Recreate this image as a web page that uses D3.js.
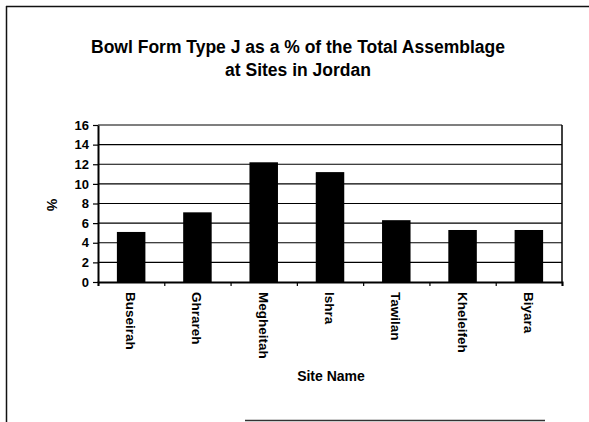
<!DOCTYPE html>
<html lang="en">
<head>
<meta charset="UTF-8">
<title>Bowl Form Type J</title>
<script src="https://d3js.org/d3.v7.min.js"></script>
<style>
  body { margin: 0; background: #fff; }
  text { font-family: "Liberation Sans", Arial, sans-serif; font-weight: bold; fill: #000; }
</style>
</head>
<body>
<svg id="chart" width="589" height="422"></svg>
<script>
const sites = ["Buseirah", "Ghrareh", "Megheitah", "Ishra", "Tawilan", "Kheleifeh", "Biyara"];
const percents = [5.1, 7.1, 12.2, 11.2, 6.3, 5.3, 5.3];
const yTicks = [0, 2, 4, 6, 8, 10, 12, 14, 16];

const svg = d3.select("#chart");
const margin = {top: 125, right: 27, bottom: 140, left: 98};
const width = 589 - margin.left - margin.right,
      height = 422 - margin.top - margin.bottom;

// outer frame (scanned look: left, top, partial bottom)
svg.append("line").attr("x1", 6.5).attr("x2", 6.5).attr("y1", 6).attr("y2", 422)
    .attr("stroke", "#111").attr("stroke-width", 1.5);
svg.append("line").attr("x1", 6).attr("x2", 589).attr("y1", 6.5).attr("y2", 6.5)
    .attr("stroke", "#111").attr("stroke-width", 1.5);
svg.append("line").attr("x1", 245).attr("x2", 545).attr("y1", 420.5).attr("y2", 420.5)
    .attr("stroke", "#333").attr("stroke-width", 1.5);

svg.append("text").attr("x", 298).attr("y", 53).attr("text-anchor", "middle")
    .style("font-size", "17.5px").text("Bowl Form Type J as a % of the Total Assemblage");
svg.append("text").attr("x", 298).attr("y", 76).attr("text-anchor", "middle")
    .style("font-size", "17.5px").text("at Sites in Jordan");

const g = svg.append("g").attr("transform", `translate(${margin.left},${margin.top})`);

const x = d3.scaleBand().domain(sites).range([0, width]).paddingInner(0.57).paddingOuter(0.285);
const y = d3.scaleLinear().domain([0, 16]).range([height, 0]);

// gridlines
g.selectAll(".grid").data(yTicks.slice(1))
  .enter().append("line")
    .attr("x1", 0).attr("x2", width)
    .attr("y1", d => y(d)).attr("y2", d => y(d))
    .attr("stroke", "#000").attr("stroke-width", 1.2);

// right border of plot
g.append("line").attr("x1", width).attr("x2", width).attr("y1", 0).attr("y2", height)
    .attr("stroke", "#000").attr("stroke-width", 1.5);

g.selectAll(".bar").data(sites)
  .enter().append("rect")
    .attr("x", d => x(d))
    .attr("y", (d, i) => y(percents[i]))
    .attr("width", x.bandwidth())
    .attr("height", (d, i) => height - y(percents[i]))
    .attr("fill", "#000");

const yAxis = g.append("g")
    .call(d3.axisLeft(y).tickValues(yTicks).tickSize(5).tickSizeOuter(0).tickPadding(4));
yAxis.select(".domain").attr("stroke-width", 2);
yAxis.selectAll("line").attr("stroke-width", 1.2);
yAxis.selectAll("text").style("font-size", "13px");

// category ticks at band boundaries
const bx = d3.scaleLinear().domain([0, sites.length]).range([0, width]);
const xAxis = g.append("g").attr("transform", `translate(0,${height})`)
    .call(d3.axisBottom(bx).ticks(sites.length).tickSize(4).tickFormat(""));
xAxis.select(".domain").attr("stroke-width", 2);
xAxis.selectAll("line").attr("stroke-width", 1.2);

g.selectAll(".xlab").data(sites)
  .enter().append("text")
    .attr("transform", d => `translate(${x(d) + x.bandwidth() / 2 - 5},${height + 10}) rotate(90)`)
    .attr("text-anchor", "start")
    .style("font-size", "13.5px")
    .text(d => d);

svg.append("text").attr("x", 331).attr("y", 381).attr("text-anchor", "middle")
    .style("font-size", "14px").text("Site Name");

svg.append("text").attr("transform", "translate(47,205) rotate(90)")
    .attr("text-anchor", "middle").style("font-size", "14px").text("%");
</script>
</body>
</html>
